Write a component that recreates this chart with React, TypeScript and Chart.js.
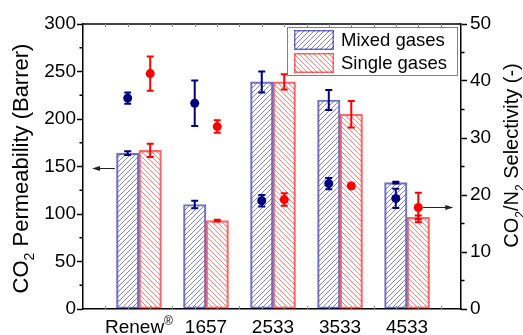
import React, { useEffect, useRef } from 'react';
import { Chart, registerables } from 'chart.js';

Chart.register(...registerables);

// ---------- data ----------
const categories = ['Renew', '1657', '2533', '3533', '4533'];
const categorySup = ['®', '', '', '', ''];
const mixedPerm = [164, 110, 239, 220, 133];
const mixedPermErr = [2, 4, 11, 10.5, 1];
const singlePerm = [167, 93, 239, 205, 96.5];
const singlePermErr = [7, 1, 8, 14, 2];
const mixedSel = [37, 36.1, 19, 22, 19.4];
const mixedSelErr = [1, 4, 1, 1, 1.7];
const singleSel = [41.3, 32, 19.2, 21.6, 17.8];
const singleSelErr = [3, 1.1, 1.1, 0.4, 2.6];
const permMax = 300;
const permStep = 50;
const selMax = 50;
const selStep = 10;
const legendLabels = ['Mixed gases', 'Single gases'];

const FONT = '"Liberation Sans", Arial, Helvetica, sans-serif';
const NAVY = '#00007f';
const RED = '#ff0000';
const BAR_W = 22.5;
const POINT_OFFSET = 0.168; // half a bar, in category units

type Seg = { t: string; sub?: boolean; sup?: boolean };

function drawRich(c: CanvasRenderingContext2D, segs: Seg[], size: number, x: number, y: number, align: 'center' | 'left') {
  const small = Math.round(size * 0.62);
  const widths = segs.map((s) => {
    c.font = `${s.sub || s.sup ? small : size}px ${FONT}`;
    return c.measureText(s.t).width;
  });
  const total = widths.reduce((a, b) => a + b, 0);
  let cx = align === 'center' ? x - total / 2 : x;
  segs.forEach((s, i) => {
    c.font = `${s.sub || s.sup ? small : size}px ${FONT}`;
    const dy = s.sub ? size * 0.28 : s.sup ? -size * 0.42 : 0;
    c.fillText(s.t, cx, y + dy);
    cx += widths[i];
  });
}

const errorBarPlugin = {
  id: 'errorBars',
  afterDatasetsDraw(chart: any) {
    const c = chart.ctx as CanvasRenderingContext2D;
    chart.data.datasets.forEach((ds: any, i: number) => {
      if (!ds.errors) return;
      const meta = chart.getDatasetMeta(i);
      const ys = chart.scales[meta.yAxisID];
      c.save();
      c.strokeStyle = ds.errColor;
      c.lineWidth = 2;
      meta.data.forEach((el: any, j: number) => {
        const v = ds.data[j].y;
        const e = ds.errors[j];
        const x = el.x;
        const top = ys.getPixelForValue(v + e);
        const bot = ys.getPixelForValue(v - e);
        const hw = ds.capHalf;
        c.beginPath();
        c.moveTo(x, top);
        c.lineTo(x, bot);
        c.moveTo(x - hw, top);
        c.lineTo(x + hw, top);
        c.moveTo(x - hw, bot);
        c.lineTo(x + hw, bot);
        c.stroke();
      });
      c.restore();
    });
  },
};

export default function App() {
  const ref = useRef<HTMLCanvasElement>(null);

  useEffect(() => {
    const canvas = ref.current!;
    const ctx = canvas.getContext('2d')!;

    const makeHatch = (color: string, forward: boolean) => {
      const s = 5;
      const t = document.createElement('canvas');
      t.width = s;
      t.height = s;
      const c = t.getContext('2d')!;
      c.strokeStyle = color;
      c.lineWidth = 1;
      c.beginPath();
      if (forward) {
        c.moveTo(0, s); c.lineTo(s, 0);
        c.moveTo(-1, 1); c.lineTo(1, -1);
        c.moveTo(s - 1, s + 1); c.lineTo(s + 1, s - 1);
      } else {
        c.moveTo(0, 0); c.lineTo(s, s);
        c.moveTo(-1, s - 1); c.lineTo(1, s + 1);
        c.moveTo(s - 1, -1); c.lineTo(s + 1, 1);
      }
      c.stroke();
      return ctx.createPattern(t, 'repeat')!;
    };
    const blueHatch = makeHatch('rgba(50,50,175,0.62)', true);
    const redHatch = makeHatch('rgba(255,50,50,0.62)', false);
    const blueBorder = 'rgba(0,0,150,0.55)';
    const redBorder = 'rgba(255,0,0,0.6)';

    const arrows = [
      { axis: 'y', y: 148, x0: -0.36, x1: -0.7 },
      { axis: 'y1', y: 17.9, x0: 4.24, x1: 4.69 },
    ];

    const overlayPlugin = {
      id: 'overlay',
      afterDraw(chart: any) {
        const c = chart.ctx as CanvasRenderingContext2D;
        const a = chart.chartArea;
        const xs = chart.scales.x;
        const ys = chart.scales.y;
        const y1 = chart.scales.y1;
        c.save();
        // top frame
        c.strokeStyle = '#000';
        c.lineWidth = 1.5;
        c.beginPath();
        c.moveTo(a.left, a.top);
        c.lineTo(a.right, a.top);
        c.stroke();
        // inward x ticks
        c.strokeStyle = '#888';
        c.lineWidth = 1;
        c.beginPath();
        for (let v = -0.5; v < xs.max; v += 1 / 3) {
          const px = Math.round(xs.getPixelForValue(v)) + 0.5;
          c.moveTo(px, a.top);
          c.lineTo(px, a.top + 3);
          c.moveTo(px, a.bottom);
          c.lineTo(px, a.bottom - 3);
        }
        c.stroke();
        // minor y ticks
        c.strokeStyle = '#000';
        c.lineWidth = 1.5;
        c.beginPath();
        for (let v = permStep / 2; v < permMax; v += permStep) {
          const py = ys.getPixelForValue(v);
          c.moveTo(a.left, py);
          c.lineTo(a.left - 3.5, py);
        }
        for (let v = selStep / 2; v < selMax; v += selStep) {
          const py = y1.getPixelForValue(v);
          c.moveTo(a.right, py);
          c.lineTo(a.right + 3.5, py);
        }
        c.stroke();
        // x labels
        c.fillStyle = '#000';
        c.textBaseline = 'alphabetic';
        c.textAlign = 'left';
        categories.forEach((cat, i) => {
          const segs: Seg[] = [{ t: cat }];
          if (categorySup[i]) segs.push({ t: categorySup[i], sup: true });
          drawRich(c, segs, 19, xs.getPixelForValue(i), a.bottom + 24, 'center');
        });
        // axis titles
        c.save();
        c.translate(20, (a.top + a.bottom) / 2 + 2);
        c.rotate(-Math.PI / 2);
        drawRich(c, [{ t: 'CO' }, { t: '2', sub: true }, { t: ' Permeability (Barrer)' }], 22, 0, 8, 'center');
        c.restore();
        c.save();
        c.translate(511, (a.top + a.bottom) / 2 - 11);
        c.rotate(-Math.PI / 2);
        drawRich(c, [{ t: 'CO' }, { t: '2', sub: true }, { t: '/N' }, { t: '2', sub: true }, { t: ' Selectivity (-)' }], 20, 0, 7, 'center');
        c.restore();
        // legend
        const lx = 287, ly = 27, lw = 170, lh = 48;
        c.fillStyle = '#fff';
        c.fillRect(lx, ly, lw, lh);
        c.strokeStyle = '#808080';
        c.lineWidth = 1;
        c.strokeRect(lx + 0.5, ly + 0.5, lw, lh);
        const sw = [
          { fill: blueHatch, stroke: blueBorder, y: 30 },
          { fill: redHatch, stroke: redBorder, y: 53 },
        ];
        sw.forEach((s, i) => {
          c.fillStyle = s.fill;
          c.fillRect(294, s.y, 40, 20);
          c.strokeStyle = s.stroke;
          c.lineWidth = 1.5;
          c.strokeRect(294.75, s.y + 0.75, 38.5, 18.5);
          c.fillStyle = '#000';
          c.font = `18.5px ${FONT}`;
          c.textBaseline = 'middle';
          c.fillText(legendLabels[i], 341, s.y + 10.5);
        });
        // arrows
        c.strokeStyle = '#222';
        c.fillStyle = '#222';
        c.lineWidth = 1;
        arrows.forEach((ar) => {
          const sc = chart.scales[ar.axis];
          const py = Math.round(sc.getPixelForValue(ar.y)) + 0.5;
          const px0 = xs.getPixelForValue(ar.x0);
          const px1 = xs.getPixelForValue(ar.x1);
          const dir = Math.sign(px1 - px0);
          c.beginPath();
          c.moveTo(px0, py);
          c.lineTo(px1 - dir * 6, py);
          c.stroke();
          c.beginPath();
          c.moveTo(px1, py);
          c.lineTo(px1 - dir * 8, py - 2.5);
          c.lineTo(px1 - dir * 8, py + 2.5);
          c.closePath();
          c.fill();
        });
        c.restore();
      },
    };

    const tickFont = { family: FONT, size: 19 };

    const chart = new Chart(canvas, {
      type: 'bar',
      data: {
        datasets: [
          {
            type: 'bar',
            label: legendLabels[0],
            data: mixedPerm.map((v, i) => ({ x: i, y: v })),
            backgroundColor: blueHatch,
            borderColor: blueBorder,
            borderWidth: 1.5,
            borderSkipped: false,
            barThickness: BAR_W,
            yAxisID: 'y',
            order: 1,
            errors: mixedPermErr,
            errColor: NAVY,
            capHalf: 3.5,
          } as any,
          {
            type: 'bar',
            label: legendLabels[1],
            data: singlePerm.map((v, i) => ({ x: i, y: v })),
            backgroundColor: redHatch,
            borderColor: redBorder,
            borderWidth: 1.5,
            borderSkipped: false,
            barThickness: BAR_W,
            yAxisID: 'y',
            order: 1,
            errors: singlePermErr,
            errColor: RED,
            capHalf: 3.5,
          } as any,
          {
            type: 'line',
            label: 'Mixed selectivity',
            data: mixedSel.map((v, i) => ({ x: i - POINT_OFFSET, y: v })),
            showLine: false,
            pointRadius: 4.5,
            pointBackgroundColor: NAVY,
            pointBorderColor: NAVY,
            pointBorderWidth: 0,
            yAxisID: 'y1',
            order: 0,
            errors: mixedSelErr,
            errColor: NAVY,
            capHalf: 3.5,
          } as any,
          {
            type: 'line',
            label: 'Single selectivity',
            data: singleSel.map((v, i) => ({ x: i + POINT_OFFSET, y: v })),
            showLine: false,
            pointRadius: 4.5,
            pointBackgroundColor: RED,
            pointBorderColor: RED,
            pointBorderWidth: 0,
            yAxisID: 'y1',
            order: 0,
            errors: singleSelErr,
            errColor: RED,
            capHalf: 3.5,
          } as any,
        ],
      },
      options: {
        animation: false,
        responsive: false,
        devicePixelRatio: 1,
        events: [],
        layout: { padding: { top: 24, left: 0, right: 0, bottom: 0 } },
        plugins: { legend: { display: false }, tooltip: { enabled: false } },
        scales: {
          x: {
            type: 'linear',
            offset: false,
            min: -0.835,
            max: 4.805,
            ticks: { display: false },
            grid: { display: false },
            border: { display: true, color: '#000', width: 1.5 },
            afterFit: (s: any) => { s.height = 26; },
          },
          y: {
            type: 'linear',
            position: 'left',
            min: 0,
            max: permMax,
            ticks: { stepSize: permStep, font: tickFont, color: '#000', padding: 1 },
            grid: { drawOnChartArea: false, tickLength: 6, tickColor: '#000', tickWidth: 1.5 },
            border: { display: true, color: '#000', width: 1.5 },
            afterFit: (s: any) => { s.width = 83; },
          },
          y1: {
            type: 'linear',
            position: 'right',
            min: 0,
            max: selMax,
            ticks: { stepSize: selStep, font: tickFont, color: '#000', padding: 3 },
            grid: { drawOnChartArea: false, tickLength: 6, tickColor: '#000', tickWidth: 1.5 },
            border: { display: true, color: '#000', width: 1.5 },
            afterFit: (s: any) => { s.width = 62; },
          },
        },
      } as any,
      plugins: [errorBarPlugin, overlayPlugin],
    });

    return () => chart.destroy();
  }, []);

  return (
    <div style={{ position: 'fixed', left: 0, top: 0, width: 523, height: 335, background: '#fff' }}>
      <canvas ref={ref} width={523} height={335} style={{ display: 'block', width: 523, height: 335 }} />
    </div>
  );
}
